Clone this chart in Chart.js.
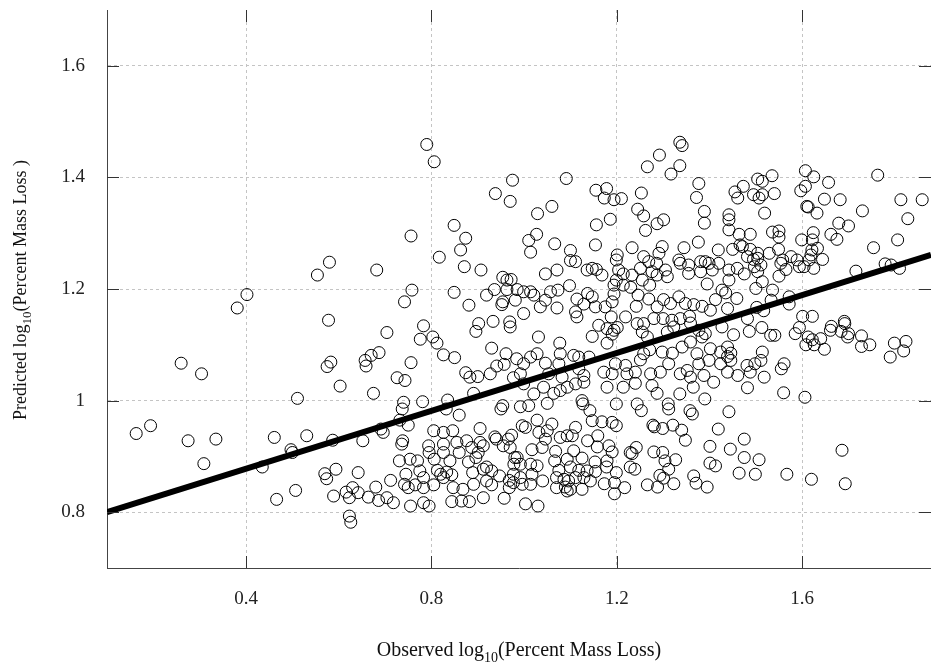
<!DOCTYPE html>
<html>
<head>
<meta charset="utf-8">
<script src="https://cdn.jsdelivr.net/npm/chart.js@4"></script>
<style>
  html, body { margin: 0; padding: 0; background: #fff; overflow: hidden; }
  #wrap { width: 931px; height: 669px; position: relative; }
</style>
</head>
<body>
<div id="wrap"><canvas id="chart"></canvas></div>
<script>
// observed vs predicted log10(percent mass loss)
const observed = [
  0.790,0.806,0.975,0.938,0.970,1.091,1.155,1.178,1.173,1.194,
  1.210,1.253,1.266,1.292,1.336,1.341,1.336,1.317,1.377,1.372,
  1.455,1.473,1.504,1.514,1.535,1.495,1.514,1.507,1.461,1.540,
  1.607,1.625,1.607,1.597,1.657,1.648,1.682,1.763,1.813,1.859,
  1.610,1.613,1.632,1.730,1.828,1.519,1.442,1.442,1.442,1.464,
  1.488,1.536,1.550,1.550,1.599,1.624,1.622,1.662,1.675,1.679,
  1.700,1.754,1.806,1.450,1.466,1.471,1.488,1.504,1.529,1.549,
  1.621,1.633,1.619,1.482,1.495,1.504,1.511,1.497,1.558,1.554,
  1.576,1.589,1.615,1.644,1.565,1.594,1.604,1.625,1.442,1.460,
  1.475,1.442,1.504,1.550,1.514,1.716,1.779,1.792,1.810,1.500,
  1.536,1.435,1.459,1.572,1.572,1.533,1.439,1.502,1.517,1.482,
  1.601,1.622,1.594,1.513,1.452,1.486,1.532,1.541,1.585,1.663,
  1.661,1.691,1.692,1.684,1.700,1.698,1.728,1.728,1.746,1.799,
  1.824,1.819,1.790,1.613,1.622,1.640,1.608,1.626,1.648,1.439,
  1.439,1.446,1.514,1.511,1.446,1.561,1.555,1.481,1.498,1.488,
  1.439,1.461,1.518,
  1.482,1.560,1.606,1.442,1.475,1.445,1.475,1.507,1.464,1.499,1.567,1.620,1.686,1.693,
  0.511,0.163,0.194,0.275,0.335,0.309,0.461,0.531,0.497,0.500,0.435,0.507,0.466,
  0.402,0.381,0.260,0.304,
  0.849,0.874,0.863,0.817,0.871,0.907,0.756,0.580,0.554,0.682,
  0.758,0.742,0.849,0.881,0.919,0.936,0.954,0.963,0.972,0.963,
  0.954,0.952,0.981,0.578,0.704,0.783,0.776,0.803,0.812,0.826,
  0.850,0.902,0.896,0.933,0.969,0.970,0.930,0.961,0.984,0.957,
  0.941,0.927,0.583,0.575,0.657,0.670,0.687,0.659,0.756,0.726,
  0.743,0.874,0.883,0.900,0.977,
  0.603,0.675,0.891,0.740,0.737,0.781,0.835,0.832,0.860,0.732,
  0.750,0.954,0.950,0.587,0.652,0.691,0.696,0.738,0.736,0.805,
  0.826,0.846,0.905,0.937,0.973,0.570,0.574,0.594,0.642,0.712,
  0.731,0.754,0.770,0.794,0.795,0.806,0.826,0.826,0.855,0.860,
  0.840,0.876,0.887,0.905,0.901,0.896,0.880,0.912,0.940,0.955,
  0.970,0.966,0.980,0.978,0.745,0.775,0.783,0.813,0.820,0.833,
  0.844,0.826,0.889,0.912,0.919,0.930,0.919,0.947,0.968,0.977,
  0.742,0.750,0.765,0.783,0.805,0.847,0.868,0.891,0.930,0.968,
  0.977,0.589,0.616,0.630,0.623,0.642,0.664,0.680,0.686,0.704,
  0.718,0.755,0.783,0.795,0.844,0.865,0.882,0.912,0.957,0.623,
  0.626,
  0.999,1.021,1.042,1.064,1.078,1.093,1.111,1.129,1.179,1.214,
  1.240,1.276,1.287,1.336,1.365,1.390,1.409,0.992,1.010,1.050,
  1.125,1.127,1.142,1.199,1.244,1.253,1.311,1.312,1.358,1.363,
  1.147,1.168,1.190,1.199,0.996,1.003,1.028,1.032,1.060,1.050,
  1.046,1.111,1.104,1.078,1.093,1.159,1.137,1.278,1.281,1.299,
  1.321,1.340,1.348,1.419,1.017,1.039,1.068,1.107,1.158,1.183,
  1.190,1.229,1.242,1.233,1.280,1.299,1.304,1.327,1.401,0.985,
  0.992,1.014,1.028,1.066,1.093,1.125,1.153,1.179,1.075,1.100,
  1.118,1.136,1.154,1.178,1.199,1.229,1.239,1.312,1.401,1.413,
  0.992,1.017,1.040,0.996,1.014,1.070,1.086,1.096,1.111,1.129,
  1.143,1.070,1.089,1.093,1.100,1.125,1.173,1.195,1.195,1.217,
  1.266,1.288,1.293,1.301,1.323,1.366,1.371,1.395,1.003,1.030,
  1.029,1.060,1.245,1.258,1.287,1.301,1.262,1.389,1.389,1.186,
  1.156,1.027,1.010,1.014,1.066,1.100,1.154,1.233,1.298,1.291,
  1.258,1.201,1.199,1.345,1.376,1.419,1.100,1.111,1.269,1.286,
  1.334,1.337,1.355,1.381,1.391,1.399,1.420,1.046,1.071,1.136,
  1.147,1.156,1.168,1.204,1.214,1.199,1.233,1.251,1.276,1.287,
  1.305,1.309,1.355,1.381,1.406,1.395,0.985,0.999,1.014,1.021,
  1.057,1.073,1.098,1.137,1.147,1.194,1.194,1.214,1.230,1.246,
  1.271,1.255,1.269,1.287,1.301,1.316,1.334,1.348,1.366,1.384,
  1.402,1.413,1.427,1.046,1.035,0.999,1.071,1.114,1.111,1.114,
  1.129,1.154,1.175,1.190,1.188,1.219,1.242,1.244,1.258,1.280,
  1.300,1.319,1.337,1.357,1.359,1.161,1.179,1.194,1.201,1.190,
  1.147,1.031,1.077,1.179,1.255,1.266,1.309,1.323,1.377,1.391,
  1.427,1.359,1.384,1.402,1.258,1.271,1.298,1.320,1.341,1.373,
  1.424,1.014,0.999,1.028,1.046,1.078,1.075,1.107,1.118,1.140,
  1.118,1.197,1.219,1.251,1.312,1.352,1.377,1.399,1.424,1.172,
  1.190,1.222,1.240,1.273,1.294,1.337,1.359,1.388,0.992,1.053,
  1.082,1.129
];

const predicted = [
  1.459,1.428,1.395,1.371,1.357,1.398,1.377,1.380,1.363,1.360,
  1.362,1.372,1.419,1.440,1.463,1.457,1.421,1.406,1.389,1.364,
  1.374,1.384,1.397,1.393,1.403,1.369,1.369,1.363,1.363,1.371,
  1.412,1.401,1.384,1.376,1.391,1.361,1.360,1.404,1.360,1.360,
  1.348,1.347,1.336,1.340,1.326,1.336,1.333,1.324,1.306,1.298,
  1.298,1.302,1.304,1.293,1.288,1.301,1.288,1.298,1.289,1.318,
  1.313,1.274,1.288,1.271,1.279,1.276,1.271,1.264,1.264,1.271,
  1.270,1.273,1.261,1.258,1.253,1.255,1.243,1.240,1.252,1.246,
  1.258,1.252,1.252,1.253,1.235,1.240,1.240,1.237,1.234,1.237,
  1.227,1.216,1.231,1.223,1.213,1.232,1.245,1.243,1.237,1.201,
  1.198,1.193,1.183,1.186,1.173,1.180,1.165,1.167,1.161,1.147,
  1.151,1.151,1.131,1.131,1.118,1.124,1.117,1.117,1.120,1.133,
  1.126,1.142,1.138,1.124,1.120,1.114,1.116,1.097,1.100,1.103,
  1.106,1.089,1.078,1.114,1.109,1.111,1.100,1.100,1.092,1.096,
  1.079,1.085,1.087,1.072,1.072,1.066,1.057,1.063,1.066,1.051,
  1.051,1.045,1.042,
  1.023,1.014,1.006,0.980,0.931,0.913,0.898,0.894,0.870,0.868,0.868,0.859,0.911,0.851,
  1.004,0.941,0.955,0.928,0.931,0.887,0.934,0.937,0.912,0.907,0.881,0.839,0.823,
  1.190,1.166,1.067,1.048,
  1.314,1.291,1.270,1.257,1.240,1.234,1.295,1.248,1.225,1.234,
  1.198,1.177,1.194,1.171,1.189,1.199,1.221,1.216,1.217,1.199,
  1.177,1.172,1.180,1.144,1.122,1.134,1.110,1.114,1.103,1.082,
  1.077,1.138,1.124,1.142,1.141,1.132,1.094,1.084,1.075,1.065,
  1.062,1.048,1.069,1.061,1.072,1.081,1.086,1.062,1.068,1.041,
  1.036,1.050,1.042,1.043,1.041,
  1.026,1.013,1.013,0.997,0.985,0.998,1.001,0.985,0.974,0.965,
  0.956,0.991,0.985,0.929,0.928,0.949,0.943,0.928,0.922,0.946,
  0.943,0.946,0.950,0.935,0.938,0.869,0.860,0.877,0.871,0.857,
  0.892,0.895,0.892,0.919,0.907,0.895,0.922,0.907,0.925,0.907,
  0.892,0.928,0.916,0.925,0.907,0.898,0.890,0.919,0.931,0.919,
  0.916,0.931,0.898,0.886,0.868,0.874,0.862,0.875,0.868,0.872,
  0.867,0.862,0.871,0.877,0.881,0.874,0.856,0.865,0.857,0.868,
  0.850,0.844,0.849,0.844,0.849,0.844,0.841,0.850,0.849,0.844,
  0.853,0.829,0.836,0.844,0.826,0.835,0.827,0.845,0.821,0.826,
  0.817,0.811,0.817,0.811,0.819,0.820,0.819,0.826,0.825,0.793,
  0.782,
  1.030,1.012,1.024,1.013,1.018,1.024,1.030,1.033,1.024,1.024,
  1.031,1.027,1.013,1.012,1.024,1.003,1.033,0.989,0.991,0.995,
  1.000,0.994,0.982,0.994,0.994,0.982,0.994,0.985,0.982,0.976,
  0.964,0.962,0.961,0.955,0.955,0.952,0.965,0.943,0.958,0.946,
  0.931,0.952,0.937,0.934,0.937,0.937,0.928,0.956,0.953,0.950,
  0.956,0.947,0.929,0.949,0.912,0.916,0.909,0.910,0.917,0.919,
  0.908,0.907,0.916,0.905,0.908,0.907,0.892,0.894,0.918,0.898,
  0.886,0.886,0.883,0.892,0.895,0.897,0.890,0.892,0.875,0.881,
  0.875,0.874,0.873,0.881,0.871,0.881,0.877,0.877,0.888,0.883,
  0.862,0.868,0.856,0.850,0.850,0.862,0.859,0.856,0.862,0.862,
  0.856,0.844,0.845,0.838,0.841,0.841,0.851,0.853,0.833,0.844,
  0.849,0.845,0.866,0.861,0.851,0.865,0.852,0.845,0.815,0.811,
  1.335,1.348,1.343,1.331,1.317,1.324,1.305,1.339,1.318,1.325,
  1.315,1.298,1.287,1.266,1.281,1.269,1.279,1.274,1.276,1.264,
  1.258,1.261,1.252,1.274,1.284,1.270,1.251,1.249,1.249,1.246,
  1.252,1.246,1.243,1.249,1.249,1.246,1.246,1.227,1.234,1.234,
  1.237,1.235,1.225,1.234,1.227,1.216,1.225,1.237,1.231,1.225,
  1.234,1.222,1.228,1.231,1.234,1.209,1.199,1.195,1.195,1.189,
  1.195,1.198,1.206,1.192,1.186,1.207,1.191,1.207,1.203,1.189,
  1.207,1.216,1.182,1.168,1.181,1.174,1.186,1.174,1.172,1.169,
  1.162,1.181,1.198,1.180,1.168,1.156,1.166,1.182,1.159,1.150,
  1.173,1.168,1.168,1.177,1.150,1.150,1.169,1.138,1.138,1.147,
  1.147,1.144,1.147,1.151,1.139,1.135,1.129,1.126,1.131,1.119,
  1.115,1.114,1.103,1.103,1.123,1.114,1.123,1.132,1.126,1.120,
  1.132,1.105,1.114,1.093,1.084,1.091,1.087,1.085,1.096,1.084,
  1.087,1.078,1.066,1.084,1.067,1.084,1.066,1.081,1.078,1.078,
  1.057,1.066,1.063,1.073,1.066,1.054,1.066,1.072,1.066,1.051,
  1.048,1.048,1.051,1.048,1.051,1.048,1.042,1.045,1.048,1.048,
  1.042,1.045
];

// fitted line end points
const fitX = [0.1, 1.878];
const fitY = [0.800, 1.261];

const xTicks = [0.4, 0.8, 1.2, 1.6];
const xTickLabels = ['0.4', '0.8', '1.2', '1.6'];
const yTicks = [0.8, 1.0, 1.2, 1.4, 1.6];
const yTickLabels = ['0.8', '1', '1.2', '1.4', '1.6'];

const FONT = '"Liberation Serif", "Times New Roman", serif';

const n = Math.min(observed.length, predicted.length);
const points = [];
for (let i = 0; i < n; i++) points.push({ x: observed[i], y: predicted[i] });
const fitLine = fitX.map((x, i) => ({ x: x, y: fitY[i] }));

// draws a label like "Observed log10(...)" with a subscript
function drawSubText(ctx, pre, sub, post, size) {
  const main = size + 'px ' + FONT;
  const small = Math.round(size * 0.72) + 'px ' + FONT;
  ctx.font = main;
  const w1 = ctx.measureText(pre).width;
  const w3 = ctx.measureText(post).width;
  ctx.font = small;
  const w2 = ctx.measureText(sub).width;
  let x = -(w1 + w2 + w3) / 2;
  ctx.textAlign = 'left';
  ctx.textBaseline = 'alphabetic';
  ctx.font = main;
  ctx.fillText(pre, x, 0);
  x += w1;
  ctx.font = small;
  ctx.fillText(sub, x, size * 0.3);
  x += w2;
  ctx.font = main;
  ctx.fillText(post, x, 0);
}

// drop the extra room Chart.js keeps for edge labels
function noEdgePadding(s) {
  s.paddingTop = 0; s.paddingBottom = 0;
  s.paddingLeft = 0; s.paddingRight = 0;
}

const framePlugin = {
  id: 'frame',
  afterDraw(chart) {
    const { ctx, chartArea: a, scales } = chart;
    const len = 12;
    ctx.save();
    ctx.strokeStyle = '#333';
    ctx.lineWidth = 1;
    ctx.beginPath();
    xTicks.forEach(v => {
      const px = Math.round(scales.x.getPixelForValue(v)) + 0.5;
      ctx.moveTo(px, a.bottom); ctx.lineTo(px, a.bottom - len);
      ctx.moveTo(px, a.top); ctx.lineTo(px, a.top + len);
    });
    yTicks.forEach(v => {
      const py = Math.round(scales.y.getPixelForValue(v)) + 0.5;
      ctx.moveTo(a.left, py); ctx.lineTo(a.left + len, py);
      ctx.moveTo(a.right, py); ctx.lineTo(a.right - len, py);
    });
    ctx.stroke();

    ctx.fillStyle = '#111';
    ctx.save();
    ctx.translate((a.left + a.right) / 2, 656);
    drawSubText(ctx, 'Observed log', '10', '(Percent Mass Loss)', 20);
    ctx.restore();

    ctx.save();
    ctx.translate(26, 290);
    ctx.rotate(-Math.PI / 2);
    drawSubText(ctx, 'Predicted log', '10', '(Percent Mass Loss )', 18);
    ctx.restore();
    ctx.restore();
  }
};

new Chart(document.getElementById('chart'), {
  type: 'scatter',
  data: {
    datasets: [
      {
        type: 'line',
        data: fitLine,
        borderColor: '#000',
        borderWidth: 6,
        pointRadius: 0,
        fill: false,
        order: 0
      },
      {
        data: points,
        pointStyle: 'circle',
        pointRadius: 6,
        pointBorderWidth: 1,
        pointBorderColor: '#000',
        pointBackgroundColor: 'rgba(0,0,0,0)',
        order: 1
      }
    ]
  },
  options: {
    responsive: true,
    maintainAspectRatio: false,
    animation: false,
    layout: { autoPadding: false, padding: { top: 10, left: 0, right: 0, bottom: 0 } },
    plugins: { legend: { display: false }, tooltip: { enabled: false } },
    scales: {
      x: {
        type: 'linear',
        min: 0.1,
        max: 1.878,
        afterBuildTicks: s => { s.ticks = xTicks.map(v => ({ value: v })); },
        afterFit: s => { s.height = 101; noEdgePadding(s); },
        grid: { color: '#c4c4c4', lineWidth: 1, drawTicks: false },
        border: { display: true, color: '#444', width: 1, dash: [3, 3] },
        ticks: {
          padding: 20,
          color: '#222',
          font: { family: FONT, size: 19 },
          callback: (v) => xTickLabels[xTicks.indexOf(Math.round(v * 10) / 10)] || ''
        }
      },
      y: {
        type: 'linear',
        min: 0.7,
        max: 1.7,
        afterBuildTicks: s => { s.ticks = yTicks.map(v => ({ value: v })); },
        afterFit: s => { s.width = 107; noEdgePadding(s); },
        grid: { color: '#c4c4c4', lineWidth: 1, drawTicks: false },
        border: { display: true, color: '#444', width: 1, dash: [3, 3] },
        ticks: {
          padding: 22,
          color: '#222',
          font: { family: FONT, size: 19 },
          callback: (v) => yTickLabels[yTicks.indexOf(Math.round(v * 10) / 10)] || ''
        }
      }
    }
  },
  plugins: [framePlugin]
});
</script>
</body>
</html>
